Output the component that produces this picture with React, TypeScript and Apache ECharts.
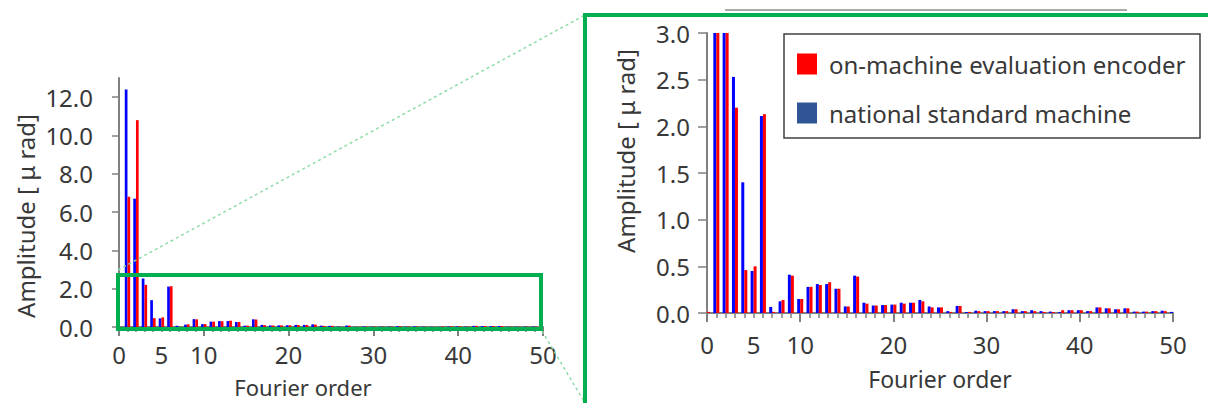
import React, { useEffect, useRef } from "react";
import * as echarts from "echarts";

const orders: number[] = Array.from({ length: 51 }, (_, i) => i);

// national standard machine (blue)
const nationalStandard: number[] = [
  0.0, 12.4, 6.7, 2.53, 1.4, 0.45, 2.11, 0.065, 0.125, 0.41,
  0.15, 0.28, 0.31, 0.31, 0.26, 0.07, 0.4, 0.11, 0.08, 0.085,
  0.09, 0.11, 0.11, 0.14, 0.07, 0.06, 0.02, 0.075, 0.01, 0.025,
  0.02, 0.02, 0.02, 0.04, 0.02, 0.03, 0.02, 0.015, 0.01, 0.03,
  0.03, 0.02, 0.06, 0.05, 0.04, 0.05, 0.015, 0.015, 0.02, 0.025,
  0.012,
];

// on-machine evaluation encoder (red)
const onMachine: number[] = [
  0.012, 6.8, 10.8, 2.2, 0.46, 0.5, 2.13, 0.012, 0.14, 0.4,
  0.15, 0.28, 0.3, 0.33, 0.26, 0.07, 0.39, 0.1, 0.08, 0.085,
  0.09, 0.1, 0.11, 0.125, 0.06, 0.06, 0.012, 0.075, 0.012, 0.02,
  0.02, 0.02, 0.02, 0.04, 0.02, 0.02, 0.012, 0.01, 0.03, 0.03,
  0.03, 0.02, 0.06, 0.05, 0.04, 0.05, 0.015, 0.015, 0.02, 0.02,
  0.0,
];

const xLabelValues: number[] = [0, 5, 10, 20, 30, 40, 50];
const xMajorTicks: number[] = [0, 10, 20, 30, 40, 50];
const leftYTicks: number[] = [0, 2, 4, 6, 8, 10, 12];

const nameRed = "on-machine evaluation encoder";
const nameBlue = "national standard machine";
const yTitle = "Amplitude [ μ rad]";
const xTitle = "Fourier order";

const FONT = "'Noto Sans', sans-serif";
const TXT = "#383838";
const AX = "#808080";
const GREEN = "#00B050";
const FS = 24;

export default function App() {
  const ref = useRef<HTMLDivElement>(null);

  useEffect(() => {
    if (!ref.current) return;
    const chart = echarts.init(ref.current, undefined, { renderer: "svg" });

    const blueData = orders.map((o, i) => [o, nationalStandard[i]]);
    const redData = orders.map((o, i) => [o, onMachine[i]]);

    const mainX = (gridIndex: number, margin: number) => ({
      type: "value",
      gridIndex,
      min: 0,
      max: 50,
      interval: 1,
      position: "bottom",
      axisLine: { show: true, lineStyle: { color: AX, width: 2 } },
      axisTick: { show: true, length: 5, lineStyle: { color: AX, width: 1.5 }, customValues: orders },
      axisLabel: {
        customValues: xLabelValues,
        margin,
        fontSize: FS,
        color: TXT,
        fontFamily: FONT,
      },
      splitLine: { show: false },
    });
    const majorX = (gridIndex: number) => ({
      type: "value",
      gridIndex,
      min: 0,
      max: 50,
      interval: 10,
      position: "bottom",
      axisLine: { show: false },
      axisTick: { show: true, length: 9, lineStyle: { color: AX, width: 2 }, customValues: xMajorTicks },
      axisLabel: { show: false },
      splitLine: { show: false },
    });

    const option: any = {
      animation: false,
      textStyle: { fontFamily: FONT },
      grid: [
        { left: 119, top: 78, width: 424, height: 249 },
        { left: 707, top: 33, width: 466, height: 280 },
      ],
      xAxis: [mainX(0, 15), majorX(0), mainX(1, 19), majorX(1)],
      yAxis: [
        {
          type: "value",
          gridIndex: 0,
          min: 0,
          max: 13,
          axisLine: { show: true, lineStyle: { color: AX, width: 2 } },
          axisTick: { show: true, length: 7, lineStyle: { color: AX, width: 1.5 }, customValues: leftYTicks },
          axisLabel: {
            customValues: leftYTicks,
            formatter: (v: number) => v.toFixed(1),
            margin: 26,
            fontSize: FS,
            color: TXT,
            fontFamily: FONT,
          },
          splitLine: { show: false },
        },
        {
          type: "value",
          gridIndex: 1,
          min: 0,
          max: 3,
          interval: 0.5,
          axisLine: { show: true, lineStyle: { color: AX, width: 2 } },
          axisTick: { show: true, length: 9, lineStyle: { color: AX, width: 1.5 } },
          axisLabel: {
            formatter: (v: number) => v.toFixed(1),
            margin: 17,
            fontSize: FS,
            color: TXT,
            fontFamily: FONT,
          },
          splitLine: { show: false },
        },
      ],
      legend: {
        orient: "vertical",
        left: 797,
        top: 52,
        itemWidth: 20,
        itemHeight: 21,
        itemGap: 25,
        padding: 0,
        icon: "rect",
        selectedMode: false,
        z: 20,
        textStyle: { fontSize: 24, color: TXT, fontFamily: FONT, padding: [0, 0, 0, 7] },
        data: [
          { name: nameRed, itemStyle: { color: "#FF0000" } },
          { name: nameBlue, itemStyle: { color: "#2F5597" } },
        ],
      },
      series: [
        {
          name: nameBlue,
          type: "bar",
          xAxisIndex: 0,
          yAxisIndex: 0,
          data: blueData,
          barWidth: 2.7,
          barGap: "0%",
          itemStyle: { color: "#0000FF" },
        },
        {
          name: nameRed,
          type: "bar",
          xAxisIndex: 0,
          yAxisIndex: 0,
          data: redData,
          barWidth: 2.7,
          barGap: "0%",
          itemStyle: { color: "#FF0000" },
        },
        {
          name: nameBlue,
          type: "bar",
          xAxisIndex: 2,
          yAxisIndex: 1,
          data: blueData,
          barWidth: 3,
          barGap: "0%",
          clip: true,
          itemStyle: { color: "#0000FF" },
        },
        {
          name: nameRed,
          type: "bar",
          xAxisIndex: 2,
          yAxisIndex: 1,
          data: redData,
          barWidth: 3,
          barGap: "0%",
          clip: true,
          itemStyle: { color: "#FF0000" },
        },
      ],
      graphic: [
        {
          type: "rect",
          z: 1,
          shape: { x: 784, y: 34, width: 416, height: 104 },
          style: { fill: "none", stroke: "#404040", lineWidth: 1.5 },
          silent: true,
        },
        {
          type: "text",
          z: 100,
          x: 25,
          y: 216,
          rotation: Math.PI / 2,
          style: { text: yTitle, fontSize: FS, fill: TXT, fontFamily: FONT, align: "center", verticalAlign: "middle" },
        },
        {
          type: "text",
          z: 100,
          x: 625,
          y: 151,
          rotation: Math.PI / 2,
          style: { text: yTitle, fontSize: FS, fill: TXT, fontFamily: FONT, align: "center", verticalAlign: "middle" },
        },
        {
          type: "text",
          z: 100,
          x: 303,
          y: 387,
          style: { text: xTitle, fontSize: 22, fill: TXT, fontFamily: FONT, align: "center", verticalAlign: "middle" },
        },
        {
          type: "text",
          z: 100,
          x: 940,
          y: 379,
          style: { text: xTitle, fontSize: 23, fill: TXT, fontFamily: FONT, align: "center", verticalAlign: "middle" },
        },
        {
          type: "line",
          z: 100,
          shape: { x1: 118, y1: 270, x2: 585, y2: 15 },
          style: { stroke: "#8FDCAA", lineWidth: 1.5, lineDash: [3, 3] },
        },
        {
          type: "line",
          z: 100,
          shape: { x1: 542, y1: 331, x2: 585, y2: 403 },
          style: { stroke: "#8FDCAA", lineWidth: 1.5, lineDash: [3, 3] },
        },
        {
          type: "line",
          z: 100,
          shape: { x1: 725, y1: 10, x2: 1127, y2: 10 },
          style: { stroke: "#555555", lineWidth: 1 },
        },
        {
          type: "rect",
          z: 100,
          shape: { x: 118, y: 275, width: 423, height: 54 },
          style: { fill: "none", stroke: GREEN, lineWidth: 4 },
        },
        {
          type: "rect",
          z: 100,
          shape: { x: 585, y: 15, width: 700, height: 500 },
          style: { fill: "none", stroke: GREEN, lineWidth: 4 },
        },
      ],
    };

    chart.setOption(option);
    return () => chart.dispose();
  }, []);

  return (
    <div
      ref={ref}
      style={{ position: "fixed", left: 0, top: 0, width: 1208, height: 403, background: "#ffffff" }}
    />
  );
}
